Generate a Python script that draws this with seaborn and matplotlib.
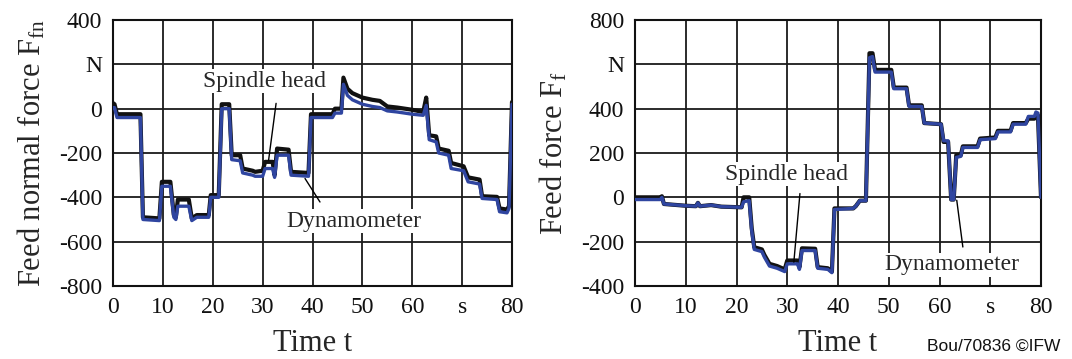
import matplotlib
matplotlib.use("Agg")
import matplotlib.pyplot as plt
import seaborn as sns
import pandas as pd

# ---------------- data ----------------
t_left = [0, 0.3, 0.8, 5.5, 6.0, 9.3, 9.8, 11.5, 12.2, 12.6, 13.0, 15.2, 15.8, 16.8,
          19.2, 19.6, 21.2, 21.8, 23.3, 23.8, 25.5, 26.0, 28.0, 28.5, 30.0, 30.5,
          32.0, 32.4, 32.9, 35.2, 35.7, 39.2, 39.7, 44.0, 44.5, 45.8, 46.2, 47.0,
          48.0, 50.0, 52.0, 53.5, 55.0, 57.0, 60.0, 62.2, 62.8, 63.4, 64.8, 65.3,
          67.3, 67.8, 70.3, 71.2, 73.5, 74.0, 77.0, 77.5, 79.0, 79.4, 80.0]
fn_dynamometer = [5, 5, -40, -40, -500, -505, -350, -350, -490, -500, -440, -440, -505, -490,
                  -490, -400, -400, 0, 0, -230, -235, -290, -300, -305, -305, -270,
                  -270, -310, -210, -210, -300, -305, -40, -40, -20, -20, 110, 60,
                  40, 20, 10, 5, -10, -15, -25, -30, 15, -140, -150, -200,
                  -210, -270, -280, -330, -340, -405, -410, -465, -470, -450, 20]
fn_spindle = [25, 20, -25, -25, -490, -495, -330, -330, -480, -490, -410, -410, -495, -480,
              -480, -390, -390, 20, 20, -210, -210, -270, -280, -285, -280, -240,
              -240, -300, -180, -185, -285, -290, -25, -25, 0, 0, 140, 90,
              70, 50, 40, 35, 10, 5, -5, -15, 50, -120, -125, -180,
              -190, -245, -260, -310, -320, -395, -398, -450, -455, -440, 30]

t_right = [0, 5.0, 5.3, 5.7, 10.0, 12.0, 12.4, 12.8, 15.0, 17.0, 21.0, 21.4, 22.5, 23.0,
           23.5, 25.0, 25.5, 26.5, 28.0, 29.5, 30.0, 32.0, 32.4, 32.9, 35.5, 36.0, 38.0,
           38.8, 39.3, 43.0, 43.5, 44.3, 45.5, 46.2, 46.8, 47.3, 50.5, 51.0, 53.5, 54.0,
           56.5, 57.0, 60.3, 60.8, 61.7, 62.3, 62.8, 63.3, 64.2, 64.6, 67.5, 68.0, 71.0,
           71.5, 74.0, 74.5, 77.0, 77.5, 78.7, 79.0, 79.4, 80.0]
ff_dynamometer = [-10, -10, 0, -30, -38, -40, -25, -40, -35, -42, -45, -20, -15, -150,
                  -235, -245, -270, -310, -320, -335, -300, -300, -325, -240, -240, -320, -325,
                  -340, -55, -50, -40, -15, -15, 630, 635, 565, 565, 490, 490, 410,
                  410, 335, 330, 255, 255, -10, -10, 180, 185, 225, 225, 260, 265,
                  295, 295, 330, 330, 365, 365, 385, 380, 0]
ff_spindle = [0, 0, 5, -30, -38, -40, -25, -40, -35, -42, -45, 0, 0, -140,
              -225, -235, -260, -300, -310, -325, -285, -285, -315, -230, -232, -315, -320,
              -335, -50, -50, -40, -15, -15, 650, 650, 575, 575, 495, 495, 415,
              415, 335, 330, 250, 250, -10, -10, 190, 190, 230, 230, 265, 270,
              300, 300, 335, 335, 355, 355, 370, 370, 0]

x_ticks = [0, 10, 20, 30, 40, 50, 60, 70, 80]
x_tick_labels = ["0", "10", "20", "30", "40", "50", "60", "s", "80"]
left_y_ticks = [-800, -600, -400, -200, 0, 200, 400]
left_y_labels = ["-800", "-600", "-400", "-200", "0", "N", "400"]
right_y_ticks = [-400, -200, 0, 200, 400, 600, 800]
right_y_labels = ["-400", "-200", "0", "200", "400", "N", "800"]

# ---------------- style ----------------
sns.set_style("white")
plt.rcParams["font.family"] = ["Liberation Serif", "DejaVu Serif"]
plt.rcParams["mathtext.default"] = "regular"

BLUE = "#2F45A0"
BLACK = "#111111"
W, H = 1072, 359
fig = plt.figure(figsize=(W / 100, H / 100), dpi=100)

ax1 = fig.add_axes([113 / W, (H - 286) / H, 399 / W, 266 / H])
ax2 = fig.add_axes([635 / W, (H - 286) / H, 406 / W, 266 / H])

df_l = pd.DataFrame({"t": t_left, "spindle": fn_spindle, "dyn": fn_dynamometer})
df_r = pd.DataFrame({"t": t_right, "spindle": ff_spindle, "dyn": ff_dynamometer})

for ax, df in ((ax1, df_l), (ax2, df_r)):
    sns.lineplot(data=df, x="t", y="spindle", ax=ax, color=BLACK, lw=3.0,
                 estimator=None, sort=False, zorder=3)
    sns.lineplot(data=df, x="t", y="dyn", ax=ax, color=BLUE, lw=2.4,
                 estimator=None, sort=False, zorder=4)

def style(ax, yticks, ylabels, ylim, ylabel):
    ax.set_xlim(0, 80)
    ax.set_ylim(*ylim)
    ax.set_xticks(x_ticks)
    ax.set_xticklabels(x_tick_labels)
    ax.set_yticks(yticks)
    ax.set_yticklabels(ylabels)
    ax.tick_params(length=0, labelsize=17, pad=8, colors="#111111")
    ax.grid(True, color="#1a1a1a", lw=1.3)
    ax.set_axisbelow(True)
    for s in ax.spines.values():
        s.set_color("#111111")
        s.set_linewidth(1.5)
    ax.set_xlabel("Time t", fontsize=22, labelpad=8)
    ax.set_ylabel(ylabel, fontsize=22, labelpad=8)

style(ax1, left_y_ticks, left_y_labels, (-800, 400), "Feed normal force F$_{fn}$")
style(ax2, right_y_ticks, right_y_labels, (-400, 800), "Feed force F$_{f}$")

box = dict(facecolor="white", edgecolor="none", pad=1.0)
# annotations left
ax1.plot([32.7, 31.2], [24, -232], color="black", lw=1.0, zorder=5)
ax1.plot([41.5, 38.5], [-421, -315], color="black", lw=1.0, zorder=5)
ax1.text(30.3, 124, "Spindle head", fontsize=17, ha="center", va="center", bbox=box, zorder=6)
ax1.text(48.3, -508, "Dynamometer", fontsize=17, ha="center", va="center", bbox=box, zorder=6)
# annotations right
ax2.plot([32.5, 31.3], [17, -292], color="black", lw=1.0, zorder=5)
ax2.plot([64.6, 63.4], [-224, -13], color="black", lw=1.0, zorder=5)
ax2.text(29.9, 104, "Spindle head", fontsize=17, ha="center", va="center", bbox=box, zorder=6)
ax2.text(62.4, -304, "Dynamometer", fontsize=17, ha="center", va="center", bbox=box, zorder=6)

fig.text(1060 / W, 1 - 346 / H, "Bou/70836 \u00a9IFW", family="Liberation Sans",
         fontsize=12.5, ha="right", va="center", color="#111111")

fig.savefig("out.png", dpi=100)
